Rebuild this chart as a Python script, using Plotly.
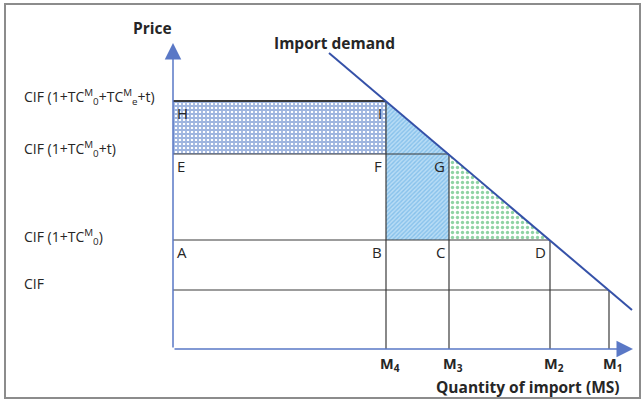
import plotly.graph_objects as go

# ---- data (arbitrary units: quantity from origin, price from origin) ----
quantity_names = ["M4", "M3", "M2", "M1"]
quantity_values = [213, 276, 377, 436]
price_names = ["CIF", "A", "E", "H"]
price_values = [59, 109, 195, 248]
price_labels = [
    "CIF",
    "CIF (1+TC<sup>M</sup><sub>0</sub>)",
    "CIF (1+TC<sup>M</sup><sub>0</sub>+t)",
    "CIF (1+TC<sup>M</sup><sub>0</sub>+TC<sup>M</sup><sub>e</sub>+t)",
]
demand_q = [156, 459]
demand_p = [296, 39]

M4, M3, M2, M1 = quantity_values
P_cif, P_a, P_e, P_h = price_values

FONT = "'Open Sans', 'Noto Sans', Arial, sans-serif"
TXT = "#262626"
LINE = "#3a3a3a"
AXIS = "#5a78c6"

fig = go.Figure()

# checker rectangle H-I-F-E
fig.add_trace(go.Scatter(
    x=[0, M4, M4, 0, 0], y=[P_h, P_h, P_e, P_e, P_h],
    fill="toself", mode="lines", line=dict(width=0),
    fillpattern=dict(shape="+", fgcolor="#3f6cc0", bgcolor="white", size=4, solidity=0.7),
    hoverinfo="skip", showlegend=False))
# blue hatched area I-G-C-B
fig.add_trace(go.Scatter(
    x=[M4, M3, M3, M4, M4], y=[P_h, P_e, P_a, P_a, P_h],
    fill="toself", mode="lines", line=dict(width=0),
    fillpattern=dict(shape="/", fgcolor="#55a6e2", bgcolor="#b8dcf5", size=3, solidity=0.45),
    hoverinfo="skip", showlegend=False))
# green dotted triangle G-D-C
fig.add_trace(go.Scatter(
    x=[M3, M2, M3, M3], y=[P_e, P_a, P_a, P_e],
    fill="toself", mode="lines", line=dict(width=0),
    fillpattern=dict(shape=".", fgcolor="#1fa84a", bgcolor="white", size=5, solidity=0.35),
    hoverinfo="skip", showlegend=False))

# horizontal price lines
h_ends = [M1, M2, M3, M4]
for p, xe in zip(price_values, h_ends):
    fig.add_trace(go.Scatter(x=[0, xe], y=[p, p], mode="lines",
                             line=dict(color=LINE, width=1.2 if p != P_h else 1.8),
                             hoverinfo="skip", showlegend=False))
# vertical quantity lines
v_tops = [P_h, P_e, P_a, P_cif]
for q, yt in zip(quantity_values, v_tops):
    fig.add_trace(go.Scatter(x=[q, q], y=[0, yt], mode="lines",
                             line=dict(color=LINE, width=1.2),
                             hoverinfo="skip", showlegend=False))
# demand curve
fig.add_trace(go.Scatter(x=demand_q, y=demand_p, mode="lines",
                         line=dict(color="#3551a8", width=2),
                         hoverinfo="skip", showlegend=False))

ann = []
# axes lines with arrowheads
ann.append(dict(x=0, y=306, ax=0, ay=0, xref="x", yref="y", axref="x", ayref="y",
                showarrow=True, arrowhead=2, arrowsize=2.2, arrowwidth=1.5,
                arrowcolor=AXIS, text=""))
ann.append(dict(x=460, y=0, ax=0, ay=0, xref="x", yref="y", axref="x", ayref="y",
                showarrow=True, arrowhead=2, arrowsize=2.2, arrowwidth=1.5,
                arrowcolor=AXIS, text=""))

# price labels on the left
label_shift = [7, 3, 5, 4]
for lab, p, s in zip(price_labels, price_values, label_shift):
    ann.append(dict(x=-151, y=p, xref="x", yref="y", text=lab, showarrow=False,
                    xanchor="left", yanchor="middle", yshift=s,
                    font=dict(family=FONT, size=14, color=TXT)))

# point letters
pts = [("H", 0, P_h, "left"), ("I", M4, P_h, "right"),
       ("E", 0, P_e, "left"), ("F", M4, P_e, "right"), ("G", M3, P_e, "right"),
       ("A", 0, P_a, "left"), ("B", M4, P_a, "right"), ("C", M3, P_a, "right"),
       ("D", M2, P_a, "right")]
for t, x, y, anc in pts:
    ann.append(dict(x=x, y=y, xref="x", yref="y", text=t, showarrow=False,
                    xanchor=anc, yanchor="top", xshift=2 if anc == "left" else -2,
                    font=dict(family=FONT, size=15, color=TXT)))

# quantity labels
for n, q in zip(quantity_names, quantity_values):
    ann.append(dict(x=q, y=0, xref="x", yref="y", text="<b>M<sub>%s</sub></b>" % n[1],
                    showarrow=False, xanchor="left", yanchor="top", xshift=-8, yshift=-3,
                    font=dict(family=FONT, size=14.5, color=TXT)))

ann.append(dict(x=449, y=-38, xref="x", yref="y", text="<b>Quantity of import (MS)</b>",
                showarrow=False, xanchor="right", yanchor="middle",
                font=dict(family=FONT, size=15.5, color=TXT)))
ann.append(dict(x=-21, y=321, xref="x", yref="y", text="<b>Price</b>",
                showarrow=False, xanchor="center", yanchor="middle",
                font=dict(family=FONT, size=15.5, color=TXT)))
ann.append(dict(x=161, y=306, xref="x", yref="y", text="<b>Import demand</b>",
                showarrow=False, xanchor="center", yanchor="middle",
                font=dict(family=FONT, size=15.5, color=TXT)))

fig.update_layout(
    width=644, height=412, margin=dict(l=0, r=0, t=0, b=0),
    paper_bgcolor="white", plot_bgcolor="white",
    xaxis=dict(range=[-173, 471], visible=False, fixedrange=True),
    yaxis=dict(range=[-63, 349], visible=False, fixedrange=True),
    annotations=ann,
    shapes=[dict(type="rect", xref="paper", yref="paper",
                 x0=5 / 644, x1=640 / 644, y0=1 - 398 / 412, y1=1 - 4 / 412,
                 line=dict(color="#8c8c8c", width=2), fillcolor="rgba(0,0,0,0)")],
)

fig.write_html("out.html", config={"displayModeBar": False},
               post_script="document.body.style.margin='0';document.body.style.overflow='hidden';")
